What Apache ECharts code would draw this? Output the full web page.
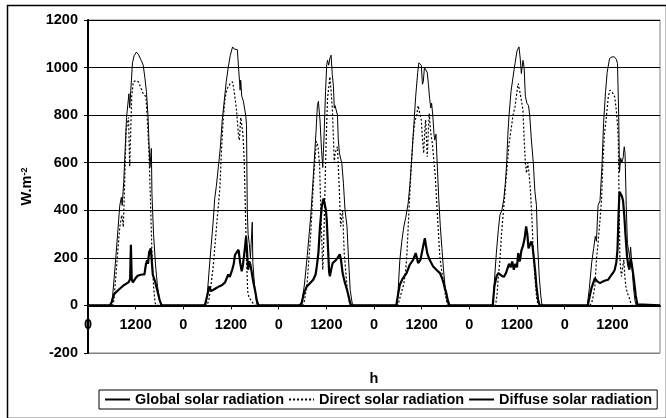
<!DOCTYPE html>
<html>
<head>
<meta charset="utf-8">
<script src="https://cdn.jsdelivr.net/npm/echarts@6/dist/echarts.min.js"></script>
<style>
  html, body { margin: 0; padding: 0; background: #fff; }
  #main { width: 666px; height: 418px; }
</style>
</head>
<body>
<div id="main"></div>
<script>
// x axis: hours over 6 days, ticks every 12 h labelled as in the sheet
var hourLabels = ['0', '1200'];
var dayCount = 6;
var yMin = -200, yMax = 1200, yStep = 200;

// [hour of day, W/m2], one array per day
var globalDays = [
  [[5.8,0],[6.2,40],[7.0,200],[8.0,420],[8.4,455],[8.6,420],[9.0,520],[9.7,790],[10.3,890],[10.5,830],[11.2,1020],[11.6,1050],[12.2,1065],[12.7,1055],[13.4,1030],[13.9,1010],[14.3,960],[14.7,900],[15.1,800],[15.6,580],[15.95,660],[16.1,470],[16.5,300],[17.0,170],[17.5,80],[18.0,25],[18.5,0]],
  [[5.6,0],[6.0,40],[6.6,170],[7.0,250],[7.5,350],[7.9,450],[8.3,500],[8.8,580],[9.3,660],[9.8,780],[10.3,860],[10.8,940],[11.3,1000],[11.8,1050],[12.4,1087],[12.8,1078],[13.2,1085],[13.6,1075],[13.9,1000],[14.3,905],[14.45,947],[14.7,880],[15.1,860],[15.7,800],[15.9,760],[16.1,400],[16.3,300],[16.6,260],[16.9,200],[17.2,300],[17.35,350],[17.5,180],[17.9,90],[18.3,30],[18.6,0]],
  [[5.5,0],[6.0,30],[6.5,90],[7.2,210],[8.1,380],[8.9,590],[9.4,730],[9.75,840],[10.0,858],[10.4,780],[10.8,650],[11.1,580],[11.4,700],[11.8,900],[12.1,1010],[12.3,1031],[12.6,1010],[12.9,1040],[13.2,1052],[13.5,970],[13.8,919],[14.0,830],[14.2,840],[14.5,835],[14.8,800],[15.0,700],[15.3,640],[15.9,597],[16.3,514],[16.7,402],[17.2,332],[17.6,192],[18.0,66],[18.5,10],[18.8,0]],
  [[5.8,0],[6.0,40],[6.5,190],[7.0,270],[7.5,330],[8.0,370],[8.6,430],[9.0,500],[9.5,620],[10.0,750],[10.5,880],[11.0,980],[11.3,1020],[11.6,1024],[11.9,1010],[12.2,930],[12.4,940],[12.7,1000],[13.0,995],[13.4,980],[13.7,930],[14.0,870],[14.3,830],[14.5,850],[14.8,800],[15.1,720],[15.3,695],[15.6,720],[15.9,600],[16.3,450],[16.7,330],[17.1,240],[17.5,150],[17.9,80],[18.3,30],[18.8,0]],
  [[5.9,0],[6.3,100],[6.8,220],[7.3,318],[7.7,380],[8.2,400],[8.7,450],[9.1,520],[9.4,600],[9.7,720],[10.0,800],[10.5,900],[11.0,960],[11.5,1017],[12.0,1070],[12.5,1087],[12.8,1040],[13.1,975],[13.5,1030],[13.8,1000],[14.1,880],[14.5,850],[14.9,840],[15.2,800],[15.6,700],[16.1,600],[16.5,480],[16.9,420],[17.2,250],[17.6,120],[18.0,40],[18.3,0]],
  [[5.7,0],[6.2,70],[6.8,180],[7.3,240],[7.7,290],[8.0,270],[8.4,420],[8.9,440],[9.4,590],[9.8,770],[10.3,900],[10.7,980],[11.3,1038],[11.9,1045],[12.5,1045],[13.0,1035],[13.3,1017],[13.6,800],[13.8,560],[14.1,620],[14.4,600],[14.7,620],[15.0,667],[15.2,640],[15.5,420],[15.8,260],[16.1,230],[16.4,200],[16.6,245],[16.9,180],[17.3,80],[17.7,20],[18.0,0]]
];

var directDays = [
  [[6.2,0],[6.5,20],[7.0,120],[7.5,230],[8.0,330],[8.5,380],[8.9,330],[9.3,560],[9.6,737],[10.2,790],[10.5,583],[11.0,878],[11.4,940],[12.0,945],[12.7,940],[13.3,915],[13.9,890],[14.6,877],[15.0,760],[15.3,660],[15.7,457],[16.1,220],[16.5,80],[16.9,10],[17.2,0]],
  [[6.0,0],[6.5,30],[7.0,90],[7.5,160],[7.9,240],[8.5,360],[9.2,492],[9.6,650],[10.0,772],[10.5,870],[11.0,910],[11.8,933],[12.4,940],[12.8,900],[13.4,820],[13.9,710],[14.1,695],[14.45,790],[14.7,760],[15.0,720],[15.3,620],[15.6,420],[15.9,200],[16.2,60],[16.5,35],[17.0,30],[17.5,10],[17.9,0]],
  [[6.0,0],[6.5,20],[7.2,100],[8.1,310],[8.9,560],[9.5,690],[9.9,670],[10.3,590],[10.7,350],[11.1,150],[11.4,300],[11.9,660],[12.3,870],[12.9,961],[13.2,900],[13.5,830],[13.8,700],[14.0,600],[14.2,640],[14.8,667],[15.3,472],[15.6,332],[16.1,400],[16.5,220],[17.2,80],[17.6,30],[18.0,0]],
  [[6.0,0],[6.5,30],[7.0,60],[7.5,90],[8.0,150],[8.3,220],[8.8,400],[9.3,560],[9.8,700],[10.3,780],[10.7,793],[11.1,840],[11.5,835],[11.9,780],[12.2,700],[12.5,640],[12.8,740],[13.0,780],[13.4,625],[13.7,740],[13.9,807],[14.3,723],[14.7,680],[15.0,620],[15.4,550],[15.8,430],[16.2,310],[16.6,200],[17.0,150],[17.4,110],[17.8,60],[18.2,24],[18.5,0]],
  [[6.6,0],[7.0,50],[7.3,120],[7.7,192],[8.1,300],[8.6,400],[9.0,480],[9.5,580],[10.0,680],[10.6,751],[11.0,800],[11.5,835],[12.0,900],[12.3,933],[12.7,900],[13.1,863],[13.5,821],[13.8,700],[14.1,600],[14.4,556],[14.7,600],[15.0,560],[15.4,480],[15.8,350],[16.1,220],[16.5,122],[16.9,38],[17.3,0]],
  [[6.3,0],[6.8,10],[7.2,40],[7.6,80],[8.0,192],[8.4,262],[8.9,360],[9.3,450],[9.6,590],[10.0,720],[10.5,793],[11.0,880],[11.4,905],[12.0,895],[12.6,877],[13.0,820],[13.3,760],[13.5,695],[13.7,450],[13.9,206],[14.1,150],[14.3,122],[14.6,160],[14.9,192],[15.1,130],[15.4,80],[15.8,50],[16.1,40],[16.4,24],[16.8,0]]
];

var diffuseDays = [
  [[5.5,0],[6.0,15],[6.5,45],[7.0,55],[8.0,70],[9.0,85],[10.2,97],[10.6,110],[10.8,255],[11.0,110],[11.3,97],[12.0,115],[12.5,125],[13.5,130],[14.2,130],[14.6,175],[14.9,190],[15.1,175],[15.4,225],[15.8,240],[16.0,200],[16.3,130],[16.9,100],[17.5,60],[18.0,25],[18.5,0]],
  [[5.4,0],[6.0,40],[6.5,80],[7.0,60],[8.0,70],[9.0,80],[9.7,85],[10.5,97],[11.3,130],[11.7,120],[12.3,150],[12.7,175],[13.0,212],[13.5,225],[13.9,234],[14.3,180],[14.7,143],[15.0,170],[15.5,240],[15.8,290],[16.0,240],[16.3,150],[16.6,185],[16.9,170],[17.3,130],[17.6,100],[18.1,60],[18.5,20],[18.9,0]],
  [[5.3,0],[5.8,10],[6.4,55],[7.1,80],[8.0,95],[8.7,108],[9.3,130],[9.6,164],[10.0,220],[10.4,330],[10.85,415],[11.3,450],[11.6,457],[11.9,400],[12.1,360],[12.4,250],[12.7,140],[12.9,122],[13.2,150],[13.6,178],[14.0,182],[14.5,192],[15.0,200],[15.4,215],[15.7,190],[16.1,136],[16.6,100],[17.2,66],[17.6,40],[18.0,10],[18.3,0]],
  [[5.6,0],[6.0,40],[6.5,87],[7.3,115],[8.2,136],[9.0,171],[9.85,192],[10.5,220],[10.8,200],[11.1,178],[11.7,192],[12.2,234],[12.8,283],[13.1,250],[13.4,220],[14.0,192],[14.9,164],[15.7,150],[16.6,136],[17.0,120],[17.4,101],[17.8,75],[18.2,52],[18.6,20],[19.0,0]],
  [[5.9,0],[6.3,80],[6.85,122],[7.3,136],[8.1,125],[8.7,120],[9.2,135],[9.7,160],[10.0,175],[10.4,160],[10.8,185],[11.2,150],[11.6,175],[12.0,160],[12.3,220],[12.7,185],[13.1,230],[13.5,250],[13.9,280],[14.3,332],[14.6,300],[14.9,240],[15.2,234],[15.6,269],[15.9,250],[16.3,190],[16.6,140],[16.9,80],[17.3,25],[17.7,0]],
  [[5.8,0],[6.2,30],[6.75,73],[7.2,95],[7.6,115],[8.2,101],[8.9,94],[9.5,100],[10.2,105],[10.95,108],[11.8,129],[12.3,140],[12.6,150],[13.0,180],[13.3,234],[13.6,400],[13.8,478],[14.1,470],[14.4,460],[14.7,440],[15.0,380],[15.3,300],[15.7,206],[16.0,170],[16.3,150],[16.6,200],[16.8,192],[17.1,150],[17.5,100],[17.9,40],[18.3,5],[18.5,0]]
];

var seriesNames = ['Global solar radiation', 'Direct solar radiation', 'Diffuse solar radiation'];

// chain the days onto one hour axis, zero at night
function toSeries(days) {
  var out = [[0, 0]];
  days.forEach(function (day, d) {
    day.forEach(function (p) { out.push([d * 24 + p[0], p[1]]); });
  });
  out.push([dayCount * 24, 0]);
  return out;
}

var font = 'Liberation Sans, Arial, sans-serif';
var txt = { color: '#000', fontFamily: font, fontWeight: 'bold', fontSize: 14.5 };

var gridTop = 20, gridH = 333;
// x axis sits on the zero line, not at the bottom of the plot
var zeroOffset = -gridH * (0 - yMin) / (yMax - yMin);

var myChart = echarts.init(document.getElementById('main'));
var option = {
  animation: false,
  backgroundColor: '#fff',
  graphic: [{
    type: 'rect', left: 5, top: 3, silent: true, z: -1,
    shape: { width: 659, height: 413 },
    style: { fill: 'none', stroke: '#000', lineWidth: 1.5 }
  }],
  grid: {
    left: 88, top: gridTop, width: 572, height: gridH,
    outerBoundsMode: 'none', containLabel: false,
    show: true, borderColor: '#808080', borderWidth: 1
  },
  legend: {
    left: 99, top: 390,
    padding: [2, 5, 2, 5],
    itemGap: 4, itemWidth: 25, itemHeight: 4,
    borderColor: '#000', borderWidth: 1,
    itemStyle: { opacity: 0 },
    textStyle: txt,
    data: seriesNames
  },
  xAxis: {
    type: 'value', min: 0, max: dayCount * 24, interval: 12,
    offset: zeroOffset,
    name: 'h', nameLocation: 'middle', nameGap: 66, nameTextStyle: txt,
    axisLine: { onZero: false, lineStyle: { color: '#000', width: 2 } },
    axisTick: { length: 4, lineStyle: { color: '#000' } },
    axisLabel: Object.assign({
      margin: 12, showMaxLabel: false,
      formatter: function (v) {
        if (v >= dayCount * 24) return '';
        return hourLabels[(v % 24) / 12];
      }
    }, txt),
    splitLine: { show: false }
  },
  yAxis: {
    type: 'value', min: yMin, max: yMax, interval: yStep,
    name: '{a|W.m}{b|-2}', nameLocation: 'middle', nameGap: 50, nameRotate: 90,
    nameTextStyle: {
      rich: {
        a: { fontFamily: font, fontWeight: 'bold', fontSize: 14.5, color: '#000' },
        b: { fontFamily: font, fontWeight: 'bold', fontSize: 9, color: '#000', verticalAlign: 'top' }
      }
    },
    axisLine: { show: true, onZero: false, lineStyle: { color: '#000', width: 2 } },
    axisTick: { show: true, length: 4, lineStyle: { color: '#000' } },
    axisLabel: Object.assign({ margin: 10, formatter: function (v) { return String(v); } }, txt),
    splitLine: {
      lineStyle: { color: ['#808080', '#000', '#000', '#000', '#000', '#000', '#000', '#000'], width: 1 }
    }
  },
  series: [
    {
      name: seriesNames[0], type: 'line', data: toSeries(globalDays),
      symbol: 'none', lineStyle: { color: '#000', width: 1 }, itemStyle: { color: '#000' }
    },
    {
      name: seriesNames[1], type: 'line', data: toSeries(directDays),
      symbol: 'none', lineStyle: { color: '#000', width: 1.2, type: [2, 2] }, itemStyle: { color: '#000' }
    },
    {
      name: seriesNames[2], type: 'line', data: toSeries(diffuseDays),
      symbol: 'none', lineStyle: { color: '#000', width: 2.2 }, itemStyle: { color: '#000' }
    }
  ]
};
myChart.setOption(option);
</script>
</body>
</html>
